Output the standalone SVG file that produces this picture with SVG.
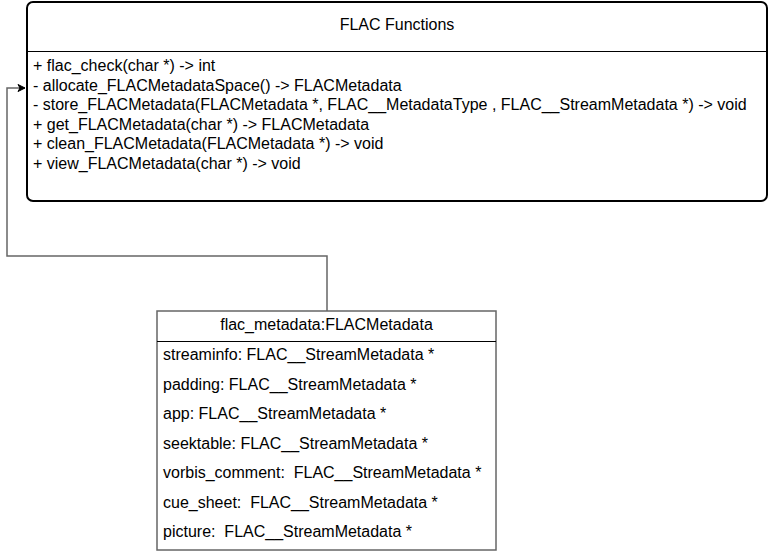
<svg xmlns="http://www.w3.org/2000/svg" width="769" height="552" viewBox="0 0 769 552">
<defs>
<style>
text{font-family:"Liberation Sans",Arial,sans-serif;font-size:16px;fill:#000;white-space:pre}
.c{text-anchor:middle}
.conn{fill:none;stroke:#666;stroke-width:1.5}
</style>
<marker id="arr" markerWidth="10" markerHeight="10" refX="8" refY="5" orient="auto" markerUnits="userSpaceOnUse">
<path d="M1,1.5 L8,5 L1,8.5 L3,5 Z" fill="#000" stroke="#000" stroke-width="1"/>
</marker>
</defs>
<rect width="769" height="552" fill="#fff"/>
<g id="connectors">
<path class="conn" d="M327,311 V256 H7 V88 H25" marker-end="url(#arr)"/>
</g>
<g id="flac-functions">
<rect x="27" y="2" width="740" height="199" rx="6" fill="#fff" stroke="#000" stroke-width="2"/>
<line x1="27" y1="51.5" x2="767" y2="51.5" stroke="#000" stroke-width="1"/>
<text class="c" x="397" y="30">FLAC Functions</text>
<text x="33" y="71">+ flac_check(char *) -&gt; int</text>
<text x="33" y="90.5">- allocate_FLACMetadataSpace() -&gt; FLACMetadata</text>
<text x="33" y="110">- store_FLACMetadata(FLACMetadata *, FLAC__MetadataType , FLAC__StreamMetadata *) -&gt; void</text>
<text x="33" y="129.5">+ get_FLACMetadata(char *) -&gt; FLACMetadata</text>
<text x="33" y="149">+ clean_FLACMetadata(FLACMetadata *) -&gt; void</text>
<text x="33" y="168.5">+ view_FLACMetadata(char *) -&gt; void</text>
</g>
<g id="flac-metadata">
<rect x="157" y="311" width="339" height="239" fill="#fff" stroke="#666" stroke-width="1.5"/>
<line x1="157" y1="341.5" x2="496" y2="341.5" stroke="#000" stroke-width="1"/>
<text class="c" x="326.5" y="330">flac_metadata:FLACMetadata</text>
<text x="163" y="360">streaminfo: FLAC__StreamMetadata *</text>
<text x="163" y="389.5">padding: FLAC__StreamMetadata *</text>
<text x="163" y="419">app: FLAC__StreamMetadata *</text>
<text x="163" y="448.5">seektable: FLAC__StreamMetadata *</text>
<text x="163" y="478" xml:space="preserve">vorbis_comment:  FLAC__StreamMetadata *</text>
<text x="163" y="507.5" xml:space="preserve">cue_sheet:  FLAC__StreamMetadata *</text>
<text x="163" y="537" xml:space="preserve">picture:  FLAC__StreamMetadata *</text>
</g>
</svg>
